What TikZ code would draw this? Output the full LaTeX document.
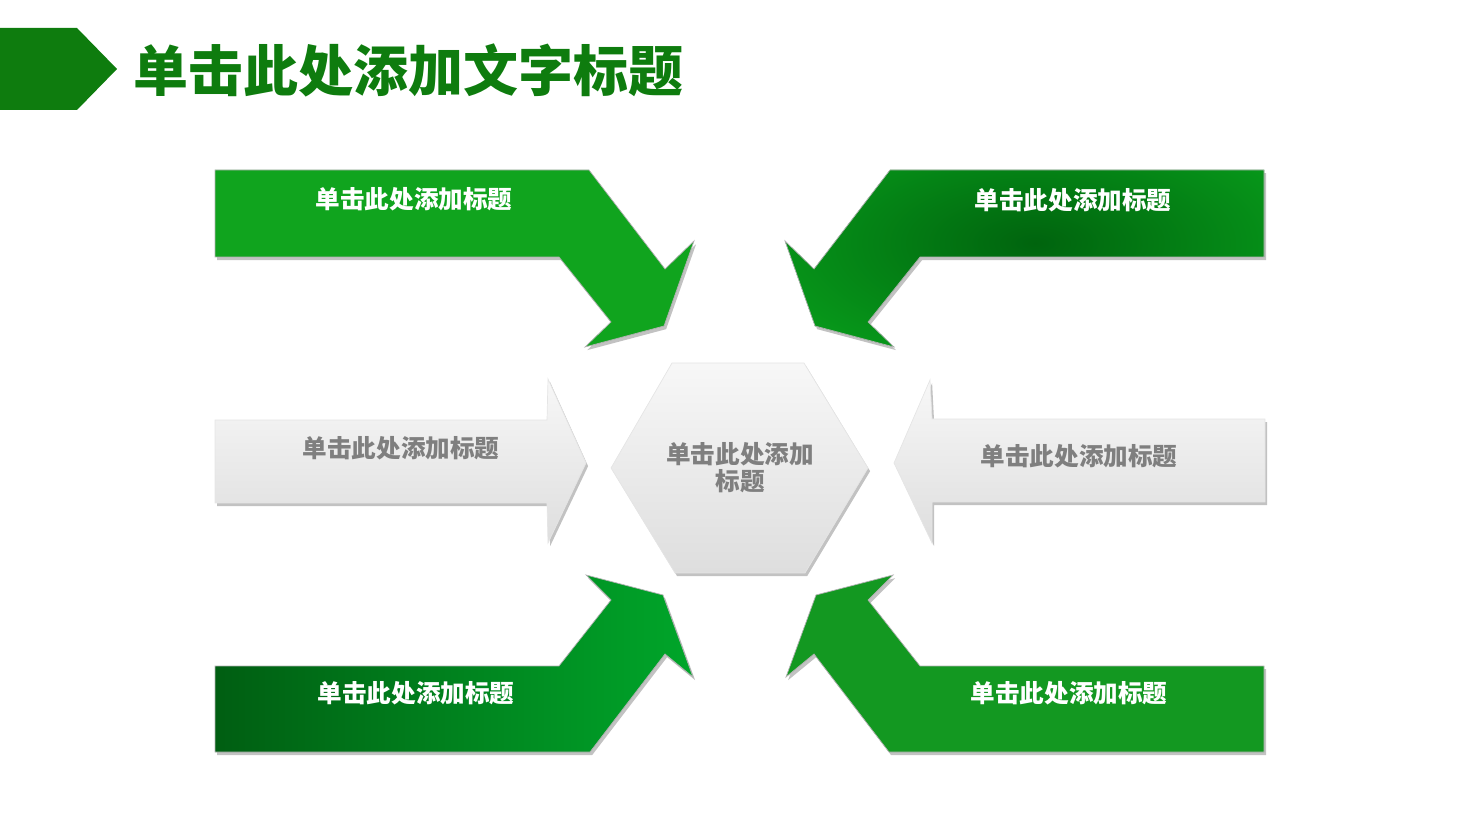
\documentclass[tikz,border=0pt]{standalone}
\usepackage{fontspec}
\newfontfamily\cjk{Noto Sans CJK SC}
\usetikzlibrary{shadows,positioning}

\definecolor{titlegreen}{RGB}{14,124,14}
\definecolor{tlgreen}{RGB}{16,164,30}
\definecolor{trgreen}{RGB}{8,160,28}
\definecolor{trdark}{RGB}{0,100,14}
\definecolor{bldark}{RGB}{0,94,18}
\definecolor{blbright}{RGB}{0,166,42}
\definecolor{brgreen}{RGB}{19,152,33}
\definecolor{textgray}{RGB}{127,127,127}

\begin{document}
\begin{tikzpicture}[x=0.02cm,y=-0.02cm]

  \tikzstyle{arrowbody} = [line width=0.4pt, drop shadow={shadow xshift=1.2pt, shadow yshift=-1.8pt, opacity=0.4, fill=black!60}]
  \tikzstyle{greenbody} = [arrowbody, draw=white!70!black]
  \tikzstyle{graybody} = [arrowbody, draw=black!10, top color=white!97!black, bottom color=black!13]
  \tikzstyle{arrowtext} = [inner sep=0pt, font=\cjk\bfseries\fontsize{14}{15.4}\selectfont]

  \useasboundingbox (0,0) rectangle (1480,813);

  % title banner
  \fill[titlegreen] (0,28) -- (77,28) -- (117,69) -- (77,110) -- (0,110) -- cycle;
  \node[anchor=west, inner sep=0pt, text=titlegreen, font=\cjk\bfseries\fontsize{31.3}{34}\selectfont] (title) at (133,70) {单击此处添加文字标题};

  % top row
  \path[greenbody, fill=tlgreen] (215,170) -- (589,170) -- (665,269) -- (694,241) -- (664,326) -- (585,347) -- (611,322) -- (559,257) -- (215,257) -- cycle;
  \path[greenbody, fill=trgreen, path picture={\shade[inner color=trdark, outer color=trgreen] (1035,243) ellipse [x radius=330, y radius=150];}]
    (1264,170) -- (890,170) -- (814,269) -- (785,241) -- (815,326) -- (894,347) -- (868,322) -- (920,257) -- (1264,257) -- cycle;

  % middle row
  \path[graybody] (215,420) -- (547,420) -- (548,379) -- (586,463) -- (548,543) -- (547,503) -- (215,503) -- cycle;
  \path[graybody] (1265,419) -- (932,419) -- (930,380) -- (894,463) -- (932,543) -- (932,502) -- (1265,502) -- cycle;
  \path[graybody] (672,363) -- (804,363) -- (868,468) -- (805,573) -- (675,573) -- (611,468) -- cycle;

  % bottom row
  \path[greenbody, left color=bldark, right color=blbright] (215,752) -- (590,752) -- (665,654) -- (693,677) -- (663,595) -- (586,575) -- (611,600) -- (559,666) -- (215,666) -- cycle;
  \path[greenbody, fill=brgreen] (1264,752) -- (889,752) -- (814,654) -- (786,677) -- (816,595) -- (893,575) -- (868,600) -- (920,666) -- (1264,666) -- cycle;

  % labels
  \node[arrowtext, text=white] (tltext) at (414,199) {单击此处添加标题};
  \node[arrowtext, text=white] (trtext) at (1073,200) {单击此处添加标题};
  \node[arrowtext, text=textgray] (mltext) at (401,448) {单击此处添加标题};
  \node[arrowtext, text=textgray] (mrtext) at (1079,456) {单击此处添加标题};
  \node[arrowtext, text=textgray, align=center] (hub) at (740,468) {单击此处添加\\标题};
  \node[arrowtext, text=white] (bltext) at (416,693) {单击此处添加标题};
  \node[arrowtext, text=white] (brtext) at (1069,693) {单击此处添加标题};

\end{tikzpicture}
\end{document}
